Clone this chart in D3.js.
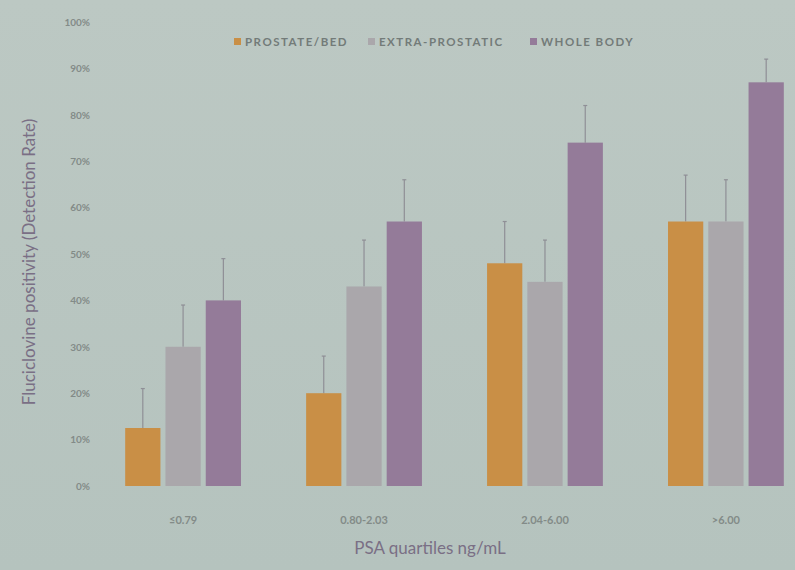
<!DOCTYPE html>
<html><head><meta charset="utf-8">
<script src="https://cdn.jsdelivr.net/npm/d3@7/dist/d3.min.js"></script>
<style>
html,body{margin:0;padding:0;background:#b8c5c0;}
svg{display:block;}
</style></head>
<body>
<svg id="chart" width="795" height="570"></svg>
<script>
const categories = ["≤0.79", "0.80-2.03", "2.04-6.00", ">6.00"];
const seriesNames = ["PROSTATE/BED", "EXTRA-PROSTATIC", "WHOLE BODY"];
const prostateBed = [12.5, 20, 48, 57];
const extraProstatic = [30, 43, 44, 57];
const wholeBody = [40, 57, 74, 87];
const prostateBedErr = [21, 28, 57, 67];
const extraProstaticErr = [39, 53, 53, 66];
const wholeBodyErr = [49, 66, 82, 92];
const yTicks = [0, 10, 20, 30, 40, 50, 60, 70, 80, 90, 100];
const colors = ["#c98f46", "#aaa7ab", "#947b99"];

const values = [prostateBed, extraProstatic, wholeBody];
const errs = [prostateBedErr, extraProstaticErr, wholeBodyErr];

const svg = d3.select("#chart");
const defs = svg.append("defs");
const grad = defs.append("linearGradient").attr("id","bg").attr("x1",0).attr("y1",0).attr("x2",0).attr("y2",1);
grad.append("stop").attr("offset","0%").attr("stop-color","#bcc8c3");
grad.append("stop").attr("offset","100%").attr("stop-color","#b5c3be");
svg.append("rect").attr("width",795).attr("height",570).attr("fill","url(#bg)");

const x0 = d3.scaleBand().domain(categories).range([89, 820]).paddingInner(0.36).paddingOuter(0.2);
const x1 = d3.scaleBand().domain(seriesNames).range([0, x0.bandwidth()]).paddingInner(0.125);
const y = d3.scaleLinear().domain([0, 100]).range([486, 22]);

// y axis (labels only)
const yAxis = d3.axisLeft(y).tickValues(yTicks).tickFormat(d => d + "%").tickSize(0).tickPadding(0);
const gy = svg.append("g").attr("transform", "translate(90,0)").call(yAxis);
gy.select(".domain").remove();
gy.selectAll("text").attr("fill", "#838b88").attr("font-family", "Lato, sans-serif").attr("font-size", 10).attr("font-weight", "bold");

// bars
const groups = svg.append("g").selectAll("g").data(categories).join("g")
  .attr("transform", d => `translate(${x0(d)},0)`);

seriesNames.forEach((s, si) => {
  groups.append("line")
    .attr("x1", (d, i) => x1(s) + x1.bandwidth() / 2)
    .attr("x2", (d, i) => x1(s) + x1.bandwidth() / 2)
    .attr("y1", (d, i) => y(errs[si][i]))
    .attr("y2", (d, i) => y(values[si][i]))
    .attr("stroke", "#8f8f96").attr("stroke-width", 1.2);
  groups.append("line")
    .attr("x1", (d, i) => x1(s) + x1.bandwidth() / 2 - 2)
    .attr("x2", (d, i) => x1(s) + x1.bandwidth() / 2 + 2)
    .attr("y1", (d, i) => y(errs[si][i]))
    .attr("y2", (d, i) => y(errs[si][i]))
    .attr("stroke", "#8f8f96").attr("stroke-width", 1.2);
  groups.append("rect")
    .attr("x", x1(s))
    .attr("width", x1.bandwidth())
    .attr("y", (d, i) => y(values[si][i]))
    .attr("height", (d, i) => y(0) - y(values[si][i]))
    .attr("fill", colors[si]);
});

// x axis labels
const xAxis = d3.axisBottom(x0).tickSize(0).tickPadding(0);
const gx = svg.append("g").attr("transform", `translate(0,${y(0) + 30})`).call(xAxis);
gx.select(".domain").remove();
gx.selectAll("text").attr("fill", "#838b88").attr("font-family", "Lato, sans-serif").attr("font-size", 11).attr("font-weight", "bold");

// axis titles
svg.append("text").attr("x", 430).attr("y", 554).attr("text-anchor", "middle")
  .attr("fill", "#7a6f85").attr("font-family", "Lato, sans-serif").attr("font-size", 17)
  .text("PSA quartiles ng/mL");
svg.append("text").attr("transform", "translate(35,262) rotate(-90)").attr("text-anchor", "middle")
  .attr("fill", "#7a6f85").attr("font-family", "Lato, sans-serif").attr("font-size", 17)
  .text("Fluciclovine positivity (Detection Rate)");

// legend
const legendX = [234, 368, 530];
const lg = svg.append("g").selectAll("g").data(seriesNames).join("g")
  .attr("transform", (d, i) => `translate(${legendX[i]},46)`);
lg.append("rect").attr("x", 0).attr("y", -8).attr("width", 7).attr("height", 7).attr("fill", (d, i) => colors[i]);
lg.append("text").attr("x", 11).attr("y", 0).text(d => d)
  .attr("fill", "#737b79").attr("font-family", "Lato, sans-serif").attr("font-size", 11.5).attr("font-weight", "bold")
  .attr("letter-spacing", 1.5);
</script>
</body></html>
